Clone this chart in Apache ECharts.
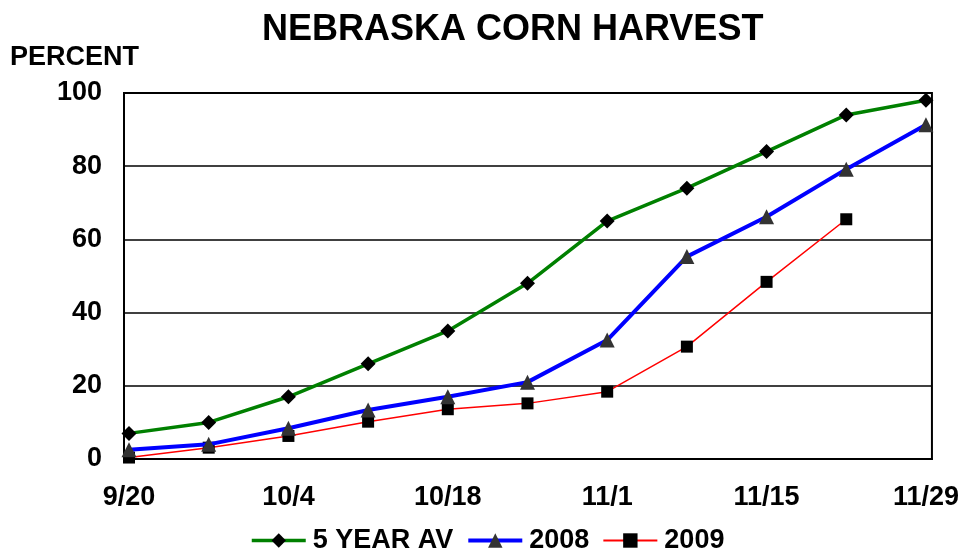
<!DOCTYPE html>
<html><head><meta charset="utf-8">
<script src="https://cdn.jsdelivr.net/npm/echarts@6/dist/echarts.min.js"></script>
<style>html,body{margin:0;padding:0;background:#fff}#c{width:962px;height:551px}</style>
</head><body><div id="c"></div>
<script>
const weeks = ['9/20','9/27','10/4','10/11','10/18','10/25','11/1','11/8','11/15','11/22','11/29'];
const tickLabels = ['9/20','10/4','10/18','11/1','11/15','11/29'];
const avg5 = [7, 10, 17, 26, 35, 48, 65, 74, 84, 94, 98];
const y2008 = [2.5, 4, 8.4, 13.4, 17, 21, 32.5, 55.3, 66.2, 79.2, 91.3];
const y2009 = [0.4, 3.1, 6.3, 10.2, 13.6, 15.2, 18.4, 30.7, 48.4, 65.5, null];
const yTicks = [0, 20, 40, 60, 80, 100];

const toPairs = arr => arr.map((v, i) => [i, v]);
const labelIdx = tickLabels.map(t => weeks.indexOf(t));
const font = 'Liberation Sans, Arial, sans-serif';

const chart = echarts.init(document.getElementById('c'), null, {renderer: 'canvas'});
chart.setOption({
  animation: false,
  backgroundColor: '#fff',
  title: {
    text: 'NEBRASKA CORN HARVEST', left: 257, top: 7,
    textStyle: {fontFamily: font, fontWeight: 'bold', fontSize: 36, color: '#000'}
  },
  graphic: [{
    type: 'text', left: 10, top: 44,
    style: {text: 'PERCENT', fontFamily: font, fontWeight: 'bold', fontSize: 27, fill: '#000'}
  }],
  grid: {left: 124, right: 30, top: 93, bottom: 92, show: true, borderColor: '#000', borderWidth: 2, containLabel: false},
  legend: {
    top: 522, left: 245, itemWidth: 54, itemHeight: 18, itemGap: 13,
    textStyle: {fontFamily: font, fontWeight: 'bold', fontSize: 27, color: '#000', padding: [0, 0, 0, 2]},
    data: [
      {name: '5 YEAR AV', lineStyle: {width: 3.5}},
      {name: '2008', lineStyle: {width: 4}},
      {name: '2009', lineStyle: {width: 2}}
    ]
  },
  xAxis: {
    type: 'value', min: -0.063, max: 10.075,
    axisLine: {show: true, onZero: false, lineStyle: {color: '#000', width: 2}},
    axisTick: {show: false},
    splitLine: {show: false},
    axisLabel: {
      customValues: labelIdx, margin: 25, color: '#000',
      fontFamily: font, fontWeight: 'bold', fontSize: 27,
      formatter: v => weeks[Math.round(v)] || ''
    }
  },
  yAxis: {
    type: 'value', min: 0, max: 100, interval: 20,
    axisLine: {show: true, onZero: false, lineStyle: {color: '#000', width: 2}},
    axisTick: {show: false},
    splitLine: {show: true, lineStyle: {color: '#000', width: 1.5}},
    axisLabel: {margin: 22, color: '#000', fontFamily: font, fontWeight: 'bold', fontSize: 27}
  },
  series: [
    {name: '5 YEAR AV', type: 'line', data: toPairs(avg5), symbol: 'diamond', symbolSize: 15,
     lineStyle: {color: '#008000', width: 3.5}, itemStyle: {color: '#000'}, z: 3},
    {name: '2008', type: 'line', data: toPairs(y2008), symbol: 'triangle', symbolSize: 15,
     lineStyle: {color: '#0000FF', width: 4}, itemStyle: {color: '#333'}, z: 2},
    {name: '2009', type: 'line', data: toPairs(y2009), symbol: 'rect', symbolSize: 12,
     lineStyle: {color: '#FF0000', width: 1.5}, itemStyle: {color: '#000'}, z: 1}
  ]
});
</script></body></html>
